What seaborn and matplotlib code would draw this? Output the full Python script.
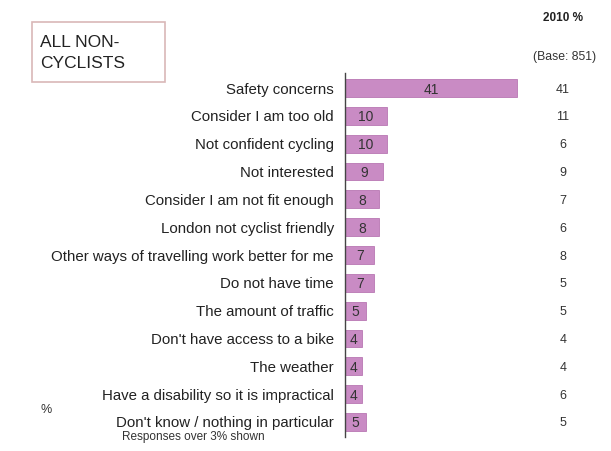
import matplotlib
matplotlib.use("Agg")
import matplotlib.pyplot as plt
import matplotlib.transforms as mtransforms
from matplotlib.patches import Rectangle
import seaborn as sns
import pandas as pd

categories = [
    "Safety concerns",
    "Consider I am too old",
    "Not confident cycling",
    "Not interested",
    "Consider I am not fit enough",
    "London not cyclist friendly",
    "Other ways of travelling work better for me",
    "Do not have time",
    "The amount of traffic",
    "Don't have access to a bike",
    "The weather",
    "Have a disability so it is impractical",
    "Don't know / nothing in particular",
]
values_current = [41, 10, 10, 9, 8, 8, 7, 7, 5, 4, 4, 4, 5]
values_2010 = [41, 11, 6, 9, 7, 6, 8, 5, 5, 4, 4, 6, 5]

sns.set_theme(style="white")
plt.rcParams['font.family'] = ['Liberation Sans', 'DejaVu Sans']

df = pd.DataFrame({"reason": categories, "pct": values_current})

fig = plt.figure(figsize=(6.11, 4.51), dpi=100)
fig.patch.set_facecolor("white")
ax = fig.add_axes([345/611, 1-437/451, (519-345)/611, (437-73)/451])

sns.barplot(data=df, y="reason", x="pct", orient="h", color="#c98bc4",
            saturation=1, width=0.64, edgecolor="#b877b3", linewidth=0.6, ax=ax)
ax.set_xlim(0, 41.4)
ax.set_ylim(len(categories) - 0.46, -0.54)
for i, v in enumerate(values_current):
    ax.text(v / 2, i, str(v), ha="center", va="center_baseline",
            fontsize=10, color="#333333")

ax.set_xlabel("")
ax.set_ylabel("")
ax.set_xticks([])
for s in ["top", "right", "bottom"]:
    ax.spines[s].set_visible(False)
ax.spines["left"].set_color("#444444")
ax.spines["left"].set_linewidth(1.0)
ax.tick_params(axis="y", which="major", length=0, pad=8, labelsize=10.8, labelcolor="#222222")
ax.set_yticks([i + 0.5 for i in range(-1, len(categories))], minor=True)
ax.tick_params(axis="y", which="minor", length=4, width=1, color="#444444", direction="out")
ax.set_facecolor("white")

# Right column (2010 values)
trans = mtransforms.blended_transform_factory(fig.transFigure, ax.transData)
for i, v in enumerate(values_2010):
    ax.text(563/611, i, str(v), transform=trans, ha="center", va="center_baseline",
            fontsize=9, color="#333333")
fig.text(563/611, 1-18/451, "2010 %", ha="center", va="center", fontsize=8.5,
         fontweight="bold", color="#222222")
fig.text(565/611, 1-57/451, "(Base: 851)", ha="center", va="center", fontsize=8.8,
         color="#333333")

# Title box
box = Rectangle((32/611, 1-82/451), (165-32)/611, (82-22)/451, transform=fig.transFigure,
                fill=False, edgecolor="#d9b8b8", linewidth=1.2)
fig.add_artist(box)
fig.text(40/611, 1-53/451, "ALL NON-\nCYCLISTS", ha="left", va="center", fontsize=12.5,
         color="#222222", linespacing=1.45)

fig.text(46/611, 1-410/451, "%", ha="center", va="center", fontsize=9, color="#333333")
fig.text(122/611, 1-437/451, "Responses over 3% shown", ha="left", va="center",
         fontsize=8.5, color="#333333")

fig.savefig("out.png", dpi=100, facecolor="white")
